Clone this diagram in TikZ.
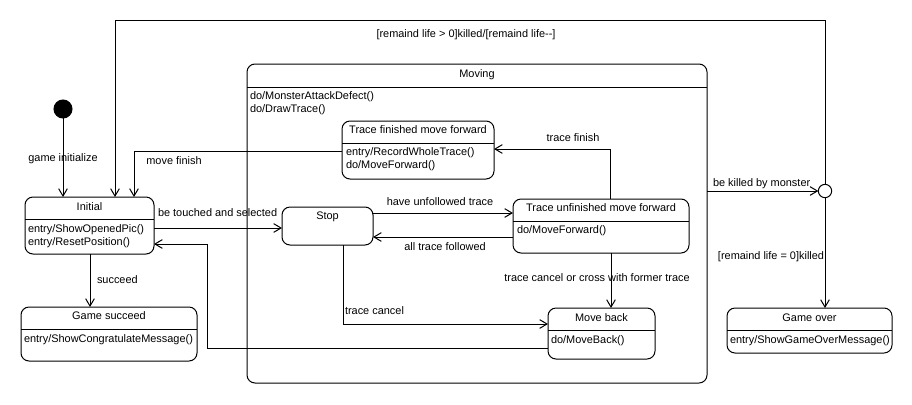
\documentclass[tikz,border=0pt]{standalone}
\usepackage{fontspec}
\setmainfont{Liberation Sans}
\usetikzlibrary{arrows.meta}
\newcommand\stbox[5]{%
  \node[box, minimum width={(#4-#2)*0.75pt}, minimum height={(#5-#3)*0.75pt}] (#1) at ({(#2+#4)/2},{(#3+#5)/2}) {};}
\newcommand\hdrline[2]{\draw (#1.west |- 0,#2) -- (#1.east |- 0,#2);}
\begin{document}
\begin{tikzpicture}[x=0.75pt,y=-0.75pt, line width=0.75pt,
  every node/.style={font=\fontsize{8.2}{10}\selectfont, inner sep=0pt, outer sep=0pt},
  box/.style={draw, rounded corners=6pt},
  txt/.style={text height=6pt, text depth=2pt},
  ltxt/.style={txt, anchor=west},
  arr/.style={-{Straight Barb[length=5.5pt,width=6.5pt]}},
  dot/.style={circle, fill=black, draw, minimum size=13.5pt},
  choice/.style={circle, draw, fill=white, minimum size=10pt},
]
\useasboundingbox (0,0) rectangle (912,404);

% boxes
\stbox{moving}{247}{64}{707}{383}
\hdrline{moving}{87}
\node[txt] (movingt) at (477,75) {Moving};
\node[ltxt] (movingb1) at (250,97) {do/MonsterAttackDefect()};
\node[ltxt] (movingb2) at (250,110) {do/DrawTrace()};

\stbox{init}{25}{197}{154}{254}
\hdrline{init}{219}
\node[txt] (initt) at (89.5,208) {Initial};
\node[ltxt] (initb1) at (28,230) {entry/ShowOpenedPic()};
\node[ltxt] (initb2) at (28,243) {entry/ResetPosition()};

\stbox{gsucc}{21}{307}{197}{361}
\hdrline{gsucc}{329}
\node[txt] (gsucct) at (109,317) {Game succeed};
\node[ltxt] (gsuccb) at (24,340) {entry/ShowCongratulateMessage()};

\stbox{tfin}{342}{121}{494}{179}
\hdrline{tfin}{143}
\node[txt] (tfint) at (418,131) {Trace finished move forward};
\node[ltxt] (tfinb1) at (346,153) {entry/RecordWholeTrace()};
\node[ltxt] (tfinb2) at (346,166) {do/MoveForward()};

\stbox{stop}{282}{207}{373}{245}
\node[txt] (stopt) at (327.5,217) {Stop};

\stbox{tunf}{513}{199}{689}{253}
\hdrline{tunf}{221}
\node[txt] (tunft) at (601,209) {Trace unfinished move forward};
\node[ltxt] (tunfb) at (517,231) {do/MoveForward()};

\stbox{mback}{548}{308}{655}{359}
\hdrline{mback}{330}
\node[txt] (mbackt) at (601.5,319) {Move back};
\node[ltxt] (mbackb) at (551,341) {do/MoveBack()};

\stbox{gover}{727}{308}{892}{353}
\hdrline{gover}{330}
\node[txt] (govert) at (809.5,319) {Game over};
\node[ltxt] (goverb) at (730,341) {entry/ShowGameOverMessage()};

\node[dot] (start) at (63,109) {};
\node[choice] (ch) at (825,191) {};

\coordinate (tl) at (115,20.5);
\coordinate (mf) at (134,151);
\coordinate (tf) at (610,149);
\coordinate (tc) at (343,324);
\coordinate (mb) at (207,348);

% connectors
\draw[arr] (start) -- (start |- init.north);
\draw[arr] (ch.north) |- (tl) -- (tl |- init.north);
\draw[arr] (tfin.west |- mf) -- (mf) -- (mf |- init.north);
\draw[arr] (init.east |- 0,228) -- (stop.west |- 0,228);
\draw[arr] (stop.east |- 0,213) -- (tunf.west |- 0,213);
\draw[arr] (tunf.west |- 0,237) -- (stop.east |- 0,237);
\draw[arr] (tunf.north -| tf) -- (tf) -- (tf -| tfin.east);
\draw[arr] (tunf.south -| 611,0) -- (mback.north -| 611,0);
\draw[arr] (stop.south -| tc) -- (tc) -- (tc -| mback.west);
\draw[arr] (mback.west |- mb) -- (mb) -- (207,244) -- (init.east |- 0,244);
\draw[arr] (init.south -| 90,0) -- (gsucc.north -| 90,0);
\draw[arr] (moving.east |- ch) -- (ch.west);
\draw[arr] (ch.south) -- (ch |- gover.north);

% labels
\node[txt] (l1) at (63,159) {game initialize};
\node[txt] (l2) at (466,35) {[remaind life > 0]killed/[remaind life-{}-]};
\node[txt] (l3) at (174,162) {move finish};
\node[ltxt] (l4) at (158,214) {be touched and selected};
\node[txt] (l5) at (440,203) {have unfollowed trace};
\node[txt] (l6) at (445,248) {all trace followed};
\node[txt] (l7) at (573,139) {trace finish};
\node[txt] (l8) at (597,279) {trace cancel or cross with former trace};
\node[ltxt] (l9) at (345,312) {trace cancel};
\node[ltxt] (l10) at (97,281) {succeed};
\node[ltxt] (l11) at (713,184) {be killed by monster};
\node[txt] (l12) at (771,257) {[remaind life = 0]killed};
\end{tikzpicture}
\end{document}
